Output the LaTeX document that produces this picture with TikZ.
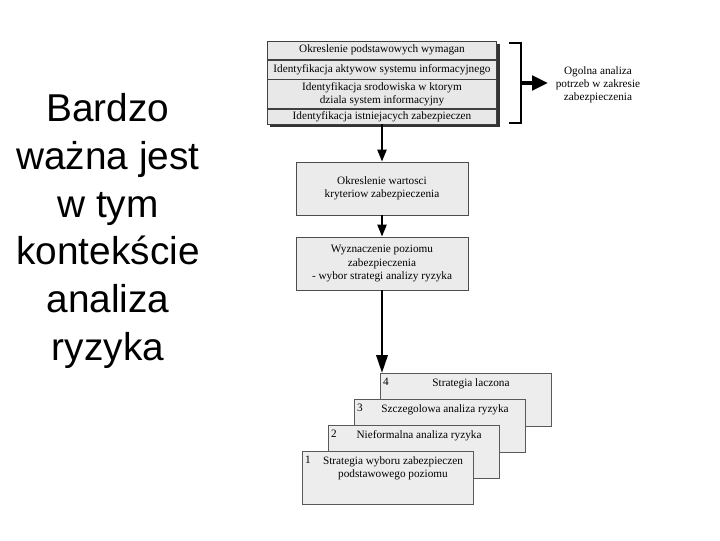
\documentclass[tikz,border=0pt]{standalone}
\usepackage{fontspec}
\setmainfont{Liberation Serif}
\newfontfamily\sidefont{Liberation Sans}
\usepackage{tikz}
\usetikzlibrary{arrows.meta,positioning,calc,backgrounds}
\newcommand{\dgfont}{\fontsize{8}{9.3}\selectfont}
\tikzset{
  row/.style={draw=black!75,fill=black!9,minimum width=5.725cm,inner sep=1pt,
              align=center,font=\dgfont},          % wiersz bloku wymagan
  stepbox/.style={draw=black!70,fill=black!8,minimum width=4.3cm,
              minimum height=1.325cm,align=center,font=\dgfont,inner sep=2pt},
  card/.style={draw=black!65,fill=black!7,minimum width=4.275cm,
              minimum height=1.325cm,inner sep=0pt},  % karta strategii
  ctxt/.style={font=\dgfont,align=center,inner sep=1pt},
  ar/.style={-{Triangle[length=3mm,width=2.2mm]},line width=1.8pt}
}

\begin{document}
\begin{tikzpicture}[x=0.025cm,y=-0.025cm]
  \useasboundingbox (0,0) rectangle (720,540);
  \node[font=\sidefont\fontsize{27.6}{34}\selectfont,align=center] (side) at (108,231)
    {Bardzo\\ważna jest\\w tym\\kontekście\\analiza\\ryzyka};
  % blok wymagan
  \node[row,minimum height=0.45cm,anchor=north] (r1) at (382,41) {Okreslenie podstawowych wymagan};
  \node[row,minimum height=0.475cm,below=0pt of r1] (r2) {Identyfikacja aktywow systemu informacyjnego};
  \node[row,minimum height=0.725cm,below=0pt of r2] (r3) {Identyfikacja srodowiska w ktorym\\dziala system informacyjny};
  \node[row,minimum height=0.375cm,below=0pt of r3] (r4) {Identyfikacja istniejacych zabezpieczen};
  \begin{scope}[on background layer]
    \fill[black!80] ($(r1.north west)+(3,3)$) rectangle ($(r4.south east)+(3,3)$);
  \end{scope}
  \coordinate (bt) at (509,43);
  \coordinate (bb) at (521,123);
  \coordinate (bm) at (522,83);
  \coordinate (be) at (548,83);
  \draw[line width=1.8pt] (bt) -| (bb) -- ++(-12,0);
  \node[font=\dgfont,align=center] (ogolna) at (598,85) {Ogolna analiza\\potrzeb w zakresie\\zabezpieczenia};
  \draw[line width=3pt,-{Triangle[length=4mm,width=3.6mm]}] (bm) -- (be);
  % kroki
  \node[stepbox] (kryt) at (382,188.5) {Okreslenie wartosci\\kryteriow zabezpieczenia};
  \node[stepbox] (poziom) at (382,263.5) {Wyznaczenie poziomu\\zabezpieczenia\\- wybor strategi analizy ryzyka};
  \draw[ar] (r4.south) -- (kryt.north);
  \draw[ar] (kryt) -- (poziom);
  % karty strategii
  \foreach \i/\t in {4/Strategia laczona,3/Szczegolowa analiza ryzyka,2/Nieformalna analiza ryzyka,
                     1/{Strategia wyboru zabezpieczen\\podstawowego poziomu}}{
    \node[card,anchor=north west] (c\i) at ({302+26*(\i-1)},{451-26*(\i-1)}) {};
    \node[ctxt] (n\i) at ($(c\i.north west)+(6,9)$) {\i};
    \node[ctxt,anchor=north] (t\i) at ($(c\i.north west)+(91,4)$) {\t};
  }
  \draw[-{Triangle[length=4.5mm,width=2.8mm]},line width=2pt] (poziom) -- (poziom.south |- c4.north);
\end{tikzpicture}
\end{document}
